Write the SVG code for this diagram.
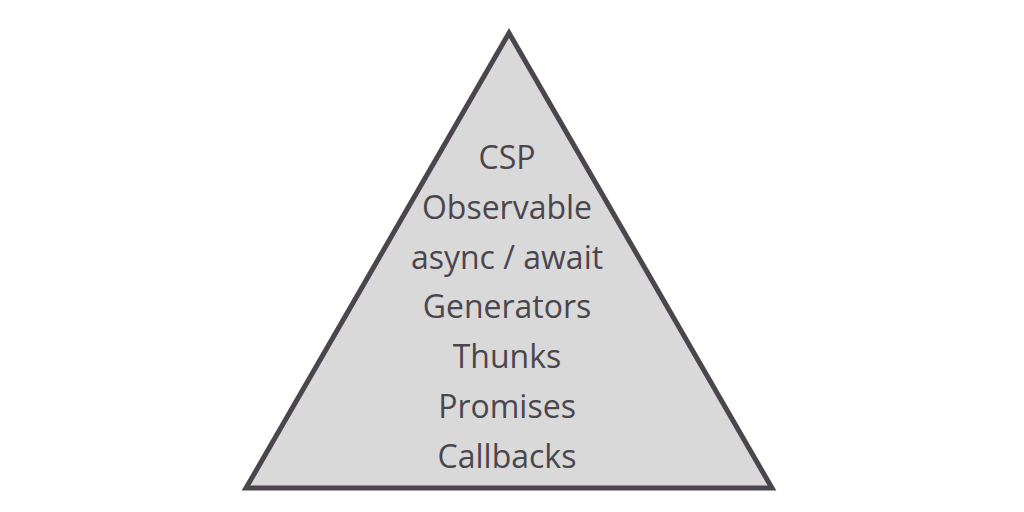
<svg xmlns="http://www.w3.org/2000/svg" width="1024" height="512" viewBox="0 0 1024 512">
  <style>
    .tri { fill: #d9d9d9; stroke: #4b464e; stroke-width: 5; stroke-linejoin: miter; }
    .lbl { font-family: "Open Sans", "Liberation Sans", sans-serif; font-size: 32px; fill: #4b464e; text-anchor: middle; }
  </style>
  <rect width="1024" height="512" fill="#ffffff"/>
  <g id="pyramid">
    <polygon class="tri" points="509,33 772,488 246,488"/>
  </g>
  <g id="labels">
    <text class="lbl" x="507" y="168.5">CSP</text>
    <text class="lbl" x="507" y="218.5">Observable</text>
    <text class="lbl" x="507" y="268.5">async / await</text>
    <text class="lbl" x="507" y="317.5">Generators</text>
    <text class="lbl" x="507" y="367.5">Thunks</text>
    <text class="lbl" x="507" y="417.5">Promises</text>
    <text class="lbl" x="507" y="467.5">Callbacks</text>
  </g>
</svg>
